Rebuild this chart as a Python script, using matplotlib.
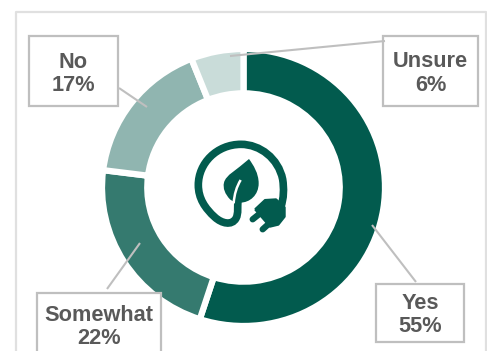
# %% imports
import matplotlib
matplotlib.use('Agg')
import matplotlib.pyplot as plt
from matplotlib.patches import PathPatch, Rectangle
from matplotlib.path import Path
from matplotlib.transforms import Affine2D

plt.rcParams['font.family'] = ['Liberation Sans', 'DejaVu Sans']

# %% data
categories = ['Yes', 'Somewhat', 'No', 'Unsure']
shares = [55, 22, 17, 6]
colors = ['#025B4E', '#357A6F', '#90B5B0', '#C9DCD9']

W, H = 487, 351
DARK = '#025B4E'
GREY = '#BFBFBF'

fig = plt.figure(figsize=(W / 100, H / 100), dpi=100)

# overlay in pixel units for frame, callouts and icon
bg = fig.add_axes([0, 0, 1, 1], zorder=0)
bg.set_xlim(0, W)
bg.set_ylim(H, 0)
bg.axis('off')

# outer frame runs off the bottom edge
bg.plot([15.5, 15.5, 486, 486], [H + 5, 11.5, 11.5, H + 5], color='#E0E0E0', lw=1.6, clip_on=False)

# %% donut (white wedge edges eat about 3px, so radii are a little oversize)
cx, cy, rx, ry = 243.5, 187.5, 141.5, 138.5
ax = fig.add_axes([(cx - rx) / W, 1 - (cy + ry) / H, 2 * rx / W, 2 * ry / H], zorder=1)
ax.pie(shares, colors=colors, startangle=90, counterclock=False, radius=1,
       wedgeprops=dict(width=0.32, edgecolor='white', linewidth=4.5))
ax.set_aspect('auto')
ax.set_xlim(-1, 1)
ax.set_ylim(-1, 1)

# %% callouts
top = fig.add_axes([0, 0, 1, 1], zorder=2)
top.set_xlim(0, W)
top.set_ylim(H, 0)
top.axis('off')
top.patch.set_alpha(0)

boxes = {
    'Yes': (376, 284, 88, 58),
    'Somewhat': (37, 293, 124, 70),
    'No': (28.5, 36, 89.5, 70),
    'Unsure': (383, 36, 95, 70),
}
leaders = {
    'Yes': ((416, 282), (372, 225)),
    'Somewhat': ((107, 289), (140, 243)),
    'No': ((119, 88), (147, 107)),
    'Unsure': ((385, 41), (230, 56)),
}
text_y = {'Yes': 315, 'Somewhat': 327, 'No': 74, 'Unsure': 73.5}

for name, share in zip(categories, shares):
    x, y, w, h = boxes[name]
    top.add_patch(Rectangle((x, y), w, h, fc='white', ec=GREY, lw=1.6))
    p0, p1 = leaders[name]
    top.plot([p0[0], p1[0]], [p0[1], p1[1]], color=GREY, lw=1.5, solid_capstyle='butt')
    top.text(x + w / 2, text_y[name], f'{name}\n{share}%', ha='center', va='center',
             fontsize=15.7, fontweight='bold', color='#595959', linespacing=1.15)

# %% leaf and plug icon (drawn in a 450x390 grid, three units per pixel)
to_px = Affine2D().scale(1 / 3).translate(170, 120) + top.transData

M, L, C = Path.MOVETO, Path.LINETO, Path.CURVE4

cord = Path(
    [(332, 262), (342, 235), (342, 205), (338, 178),
     (325, 115), (270, 73), (213, 73),
     (140, 73), (85, 130), (85, 195),
     (85, 235), (105, 265), (135, 292),
     (155, 310), (185, 318), (198, 295),
     (206, 280), (202, 260), (204, 240)],
    [M, C, C, C, C, C, C, C, C, C, C, C, C, C, C, C, C, C, C],
)
top.add_patch(PathPatch(cord, fc='none', ec=DARK, lw=5.5, transform=to_px, capstyle='butt'))

leaf = Path(
    [(237, 117),
     (250, 135), (266, 160), (266, 190),
     (266, 225), (240, 248), (210, 248),
     (196, 248), (186, 243), (180, 238),
     (165, 222), (158, 205), (162, 188),
     (167, 165), (200, 150), (237, 117)],
    [M, C, C, C, C, C, C, C, C, C, C, C, C, C, C, C],
)
top.add_patch(PathPatch(leaf, fc=DARK, ec='none', transform=to_px))

# pale vein splitting the leaf
vein = Path([(212, 180), (200, 200), (193, 222), (191, 250)], [M, C, C, C])
top.add_patch(PathPatch(vein, fc='none', ec='white', lw=1.8, transform=to_px))

plug = Path(
    [(255, 268), (285, 240), (318, 238), (344, 262), (344, 290), (325, 314), (300, 320), (255, 268)],
    [M, L, L, L, L, L, L, L],
)
top.add_patch(PathPatch(plug, fc=DARK, ec=DARK, lw=1.5, joinstyle='round', transform=to_px))

for a, b in [((268, 282), (248, 298)), ((298, 310), (278, 328))]:
    prong = Path([a, b], [M, L])
    top.add_patch(PathPatch(prong, fc='none', ec=DARK, lw=4.5, capstyle='round', transform=to_px))

fig.savefig('out.png', dpi=100)
